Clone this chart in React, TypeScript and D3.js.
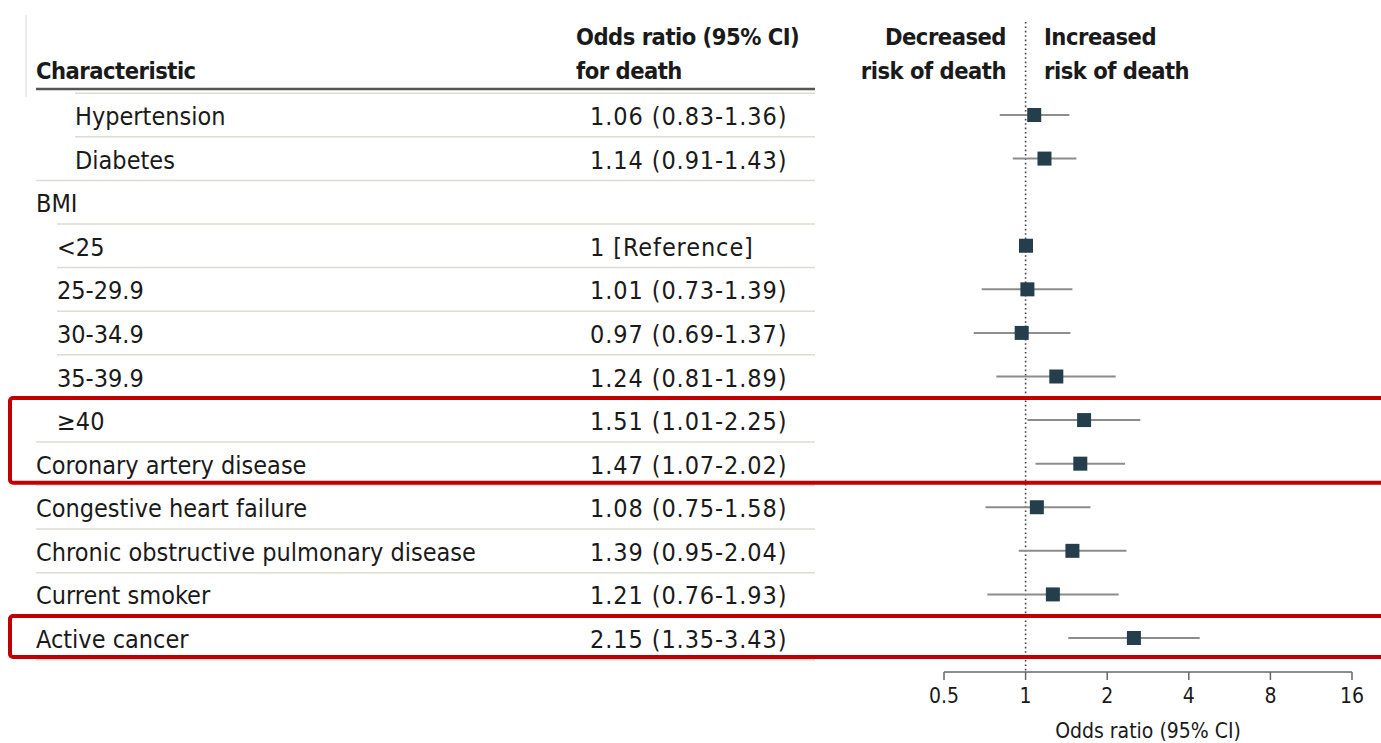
import React from "react";
import * as d3 from "d3";

const labels = ["Hypertension", "Diabetes", "BMI", "<25", "25-29.9", "30-34.9", "35-39.9", "≥40", "Coronary artery disease", "Congestive heart failure", "Chronic obstructive pulmonary disease", "Current smoker", "Active cancer"];
const indentLevels = [2, 2, 0, 1, 1, 1, 1, 1, 0, 0, 0, 0, 0];
const orText = ["1.06 (0.83-1.36)", "1.14 (0.91-1.43)", "", "1 [Reference]", "1.01 (0.73-1.39)", "0.97 (0.69-1.37)", "1.24 (0.81-1.89)", "1.51 (1.01-2.25)", "1.47 (1.07-2.02)", "1.08 (0.75-1.58)", "1.39 (0.95-2.04)", "1.21 (0.76-1.93)", "2.15 (1.35-3.43)"];
const oddsRatio: (number | null)[] = [1.06, 1.14, null, 1, 1.01, 0.97, 1.24, 1.51, 1.47, 1.08, 1.39, 1.21, 2.15];
const ciLow: (number | null)[] = [0.83, 0.91, null, null, 0.73, 0.69, 0.81, 1.01, 1.07, 0.75, 0.95, 0.76, 1.35];
const ciHigh: (number | null)[] = [1.36, 1.43, null, null, 1.39, 1.37, 1.89, 2.25, 2.02, 1.58, 2.04, 1.93, 3.43];
const axisTicks = [0.5, 1, 2, 4, 8, 16];
const highlightGroups = [["≥40", "Coronary artery disease"], ["Active cancer"]];

const FONT = "'DejaVu Sans Condensed', 'DejaVu Sans', sans-serif";

export default function App() {
  const W = 1381, H = 743;
  const y = d3.scalePoint<number>().domain(d3.range(labels.length)).range([115, 638]);
  const step = y.step();
  // axis scale (tick positions) and mark scale (as drawn in the figure)
  const xAxis = d3.scaleLog().base(2).domain([0.5, 16]).range([944, 1352]);
  const xMark = d3.scaleLog().base(2).domain([0.5, 2]).range([1026 - 97.7, 1026 + 97.7]);
  const indentX = d3.scaleOrdinal<number, number>().domain([0, 1, 2]).range([36, 57, 75]);
  const tableRight = 815;
  const axisY = 672;
  const hdr = { fontSize: 23.5, fontWeight: "bold" as const, fill: "#1a1a1a", letterSpacing: -0.5 };

  return (
    <svg width={W} height={H} style={{ position: "absolute", left: 0, top: 0, background: "#fff" }} fontFamily={FONT}>
      <rect x={0} y={0} width={W} height={H} fill="#fff" />
      <line x1={26} x2={26} y1={15} y2={97} stroke="#d8d8d8" strokeWidth={1} />
      {/* headers */}
      <text x={36} y={79} {...hdr}>Characteristic</text>
      <text x={576} y={45} {...hdr}>Odds ratio (95% CI)</text>
      <text x={576} y={79} {...hdr}>for death</text>
      <text x={1006} y={45} {...hdr} textAnchor="end">Decreased</text>
      <text x={1006} y={79} {...hdr} textAnchor="end">risk of death</text>
      <text x={1044} y={45} {...hdr}>Increased</text>
      <text x={1044} y={79} {...hdr}>risk of death</text>
      {/* row separators */}
      {labels.map((_, i) => (
        <line key={"sep" + i} x1={indentX(indentLevels[i])} x2={tableRight} y1={(y(i) as number) - step / 2} y2={(y(i) as number) - step / 2} stroke="#dcdcd2" strokeWidth={1.5} />
      ))}
      <line x1={36} x2={tableRight} y1={(y(labels.length - 1) as number) + step / 2} y2={(y(labels.length - 1) as number) + step / 2} stroke="#dcdcd2" strokeWidth={1.5} />
      <line x1={36} x2={tableRight} y1={89} y2={89} stroke="#555" strokeWidth={2.5} />
      {/* labels and OR text */}
      {labels.map((l, i) => (
        <text key={"lab" + i} x={indentX(indentLevels[i])} y={(y(i) as number) + 10} fontSize={25} fill="#1a1a1a">{l}</text>
      ))}
      {orText.map((t, i) => (
        <text key={"or" + i} x={590} y={(y(i) as number) + 10} fontSize={25} letterSpacing={0.9} fill="#1a1a1a">{t}</text>
      ))}
      {/* reference line */}
      <line x1={xAxis(1)} x2={xAxis(1)} y1={22} y2={axisY} stroke="#444" strokeWidth={1.6} strokeDasharray="1.6 2.8" />
      {/* CIs */}
      {labels.map((_, i) => ciLow[i] != null && ciHigh[i] != null ? (
        <line key={"ci" + i} x1={xMark(ciLow[i] as number)} x2={xMark(ciHigh[i] as number)} y1={y(i) as number} y2={y(i) as number} stroke="#8c8c8c" strokeWidth={2} />
      ) : null)}
      {labels.map((_, i) => oddsRatio[i] != null ? (
        <rect key={"sq" + i} x={xMark(oddsRatio[i] as number) - 7} y={(y(i) as number) - 7} width={14} height={14} fill="#243e4c" />
      ) : null)}
      {/* axis */}
      <line x1={xAxis(0.5)} x2={xAxis(16)} y1={axisY} y2={axisY} stroke="#666" strokeWidth={1.5} />
      {axisTicks.map((t) => (
        <g key={"t" + t}>
          <line x1={xAxis(t)} x2={xAxis(t)} y1={axisY} y2={axisY + 8} stroke="#666" strokeWidth={1.5} />
          <text x={xAxis(t)} y={703} fontSize={21} textAnchor="middle" fill="#1a1a1a">{String(t)}</text>
        </g>
      ))}
      <text x={1148} y={738} fontSize={21} textAnchor="middle" fill="#1a1a1a">Odds ratio (95% CI)</text>
      {/* highlight boxes */}
      {highlightGroups.map((g, k) => {
        const first = labels.indexOf(g[0]);
        const last = labels.indexOf(g[g.length - 1]);
        const top = (y(first) as number) - 22;
        const bot = (y(last) as number) + 19;
        return <rect key={"hb" + k} x={10} y={top} width={W + 20} height={bot - top} fill="none" stroke="#c00000" strokeWidth={4} rx={3} />;
      })}
    </svg>
  );
}
